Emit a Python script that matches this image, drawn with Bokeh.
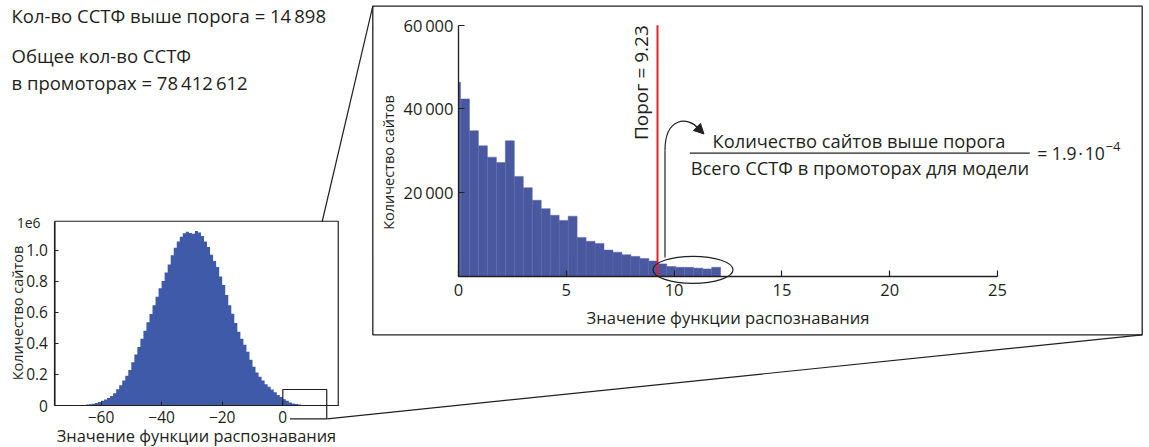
import math
from bokeh.plotting import figure
from bokeh.models import Range1d, LinearAxis, FixedTicker, Label, Arrow, NormalHead
from bokeh.embed import file_html
from bokeh.resources import INLINE

# ---------------- data ----------------
# overview histogram (counts in units of 1e6), bins of width 1, left edges
overview_bin_left = list(range(-72, 12))
overview_counts_1e6 = [
    0.0003, 0.0005, 0.0008, 0.0012, 0.0018, 0.0027, 0.0040, 0.0058, 0.0085, 0.0120,
    0.0165, 0.0225, 0.0300, 0.0390, 0.0490, 0.0610, 0.0790, 0.1040, 0.1310, 0.1600,
    0.1910, 0.2290, 0.2780, 0.3280, 0.3760, 0.4290, 0.4810, 0.5350, 0.5890, 0.6450,
    0.6990, 0.7540, 0.8010, 0.8560, 0.9060, 0.9660, 1.0150, 1.0550, 1.0850, 1.1080,
    1.1180, 1.1100, 1.1050, 1.1220, 1.1120, 1.0900, 1.0550, 1.0200, 0.9700, 0.9300,
    0.8900, 0.8300, 0.7750, 0.7100, 0.6450, 0.5900, 0.5300, 0.4750, 0.4300, 0.3900,
    0.3450, 0.2950, 0.2500, 0.2120, 0.1850, 0.1600, 0.1370, 0.1200, 0.1030, 0.0850,
    0.0680, 0.0540, 0.0400, 0.0300, 0.0190, 0.0130, 0.0090, 0.0060, 0.0040, 0.0028,
    0.0020, 0.0014, 0.0010, 0.0008,
]
overview_ticks_x = [-60, -40, -20, 0]
overview_ticks_y = [0, 0.2, 0.4, 0.6, 0.8, 1.0]
zoom_region = (0.0, 14.5, -0.086, 0.103)   # x0, x1, y0, y1 of the marked region

# zoomed histogram (positive scores)
zoom_bin_edges = [0.0, 0.093, 0.509, 0.925, 1.341, 1.757, 2.173, 2.589, 3.005, 3.421,
                  3.837, 4.253, 4.669, 5.085, 5.501, 5.917, 6.333, 6.749, 7.165, 7.581,
                  7.997, 8.413, 8.829, 9.245, 9.661, 10.077, 10.493, 10.909, 11.325,
                  11.741, 12.157]
zoom_counts = [46400, 42400, 34800, 31200, 28500, 27200, 32400, 23900, 21200, 18200,
               16200, 14600, 13400, 14400, 9300, 8400, 7900, 6300, 5800, 5200,
               4800, 4300, 3700, 3000, 2400, 2200, 2200, 2000, 1800, 2200]
zoom_ticks_x = [0, 5, 10, 15, 20, 25]
zoom_ticks_y = [20000, 40000, 60000]
threshold = 9.23

txt_above = "Кол-во ССТФ выше порога = 14\u2009898"
txt_total_1 = "Общее кол-во ССТФ"
txt_total_2 = "в промоторах = 78\u2009412\u2009612"
txt_num = "Количество сайтов выше порога"
txt_den = "Всего ССТФ в промоторах для модели"
txt_ratio = "= 1.9\u200a·\u200a10"
txt_exp = "\u22124"
xlabel = "Значение функции распознавания"
ylabel = "Количество сайтов"

# ---------------- styles / layout ----------------
FONT = "Open Sans"
TXT = "#231f20"
BAR_SMALL = "#3f5aa8"
BAR_BIG = "#4a58a0"
RED = "#e8212a"

W, H = 1149, 447


def cx(px):
    return px


def cy(py):
    return H - py


p = figure(width=W, height=H, x_range=Range1d(0, W), y_range=Range1d(0, H),
           x_axis_type=None, y_axis_type=None, toolbar_location=None,
           output_backend="svg", min_border=0, outline_line_color=None,
           background_fill_color="white", border_fill_color="white")

# big panel ranges: data 0..25 -> page x 458..997 ; 0..60000 -> page y 276..24.7
bx0 = cx(458)
sxb = (cx(997) - bx0) / 25.0
p.extra_x_ranges["bx"] = Range1d(-bx0 / sxb, (W - bx0) / sxb)
by0 = cy(276)
syb = (cy(24.7) - by0) / 60000.0
p.extra_y_ranges["by"] = Range1d(-by0 / syb, (H - by0) / syb)

# small panel ranges: 0 -> page x 282.3, 3.03 px/unit ; 0 -> page y 405, 155.5 px per 1e6
sx0 = cx(282.3)
sxs = 3.03
p.extra_x_ranges["sx"] = Range1d(-sx0 / sxs, (W - sx0) / sxs)
sy0 = cy(405)
sys_ = 155.5
p.extra_y_ranges["sy"] = Range1d(-sy0 / sys_, (H - sy0) / sys_)

S_XMIN, S_XMAX, S_YMAX = -75.2, 18.3, 1.185

# ---------------- small panel ----------------
p.varea_step(x=overview_bin_left + [overview_bin_left[-1] + 1],
             y1=[0] * (len(overview_counts_1e6) + 1),
             y2=overview_counts_1e6 + [overview_counts_1e6[-1]],
             step_mode="after", x_range_name="sx", y_range_name="sy",
             fill_color=BAR_SMALL)

p.quad(left=[S_XMIN], right=[S_XMAX], bottom=[0], top=[S_YMAX],
       x_range_name="sx", y_range_name="sy", fill_color=None,
       line_color=TXT, line_width=1.2)

sxa = LinearAxis(x_range_name="sx", y_range_name="sy", fixed_location=0,
                 bounds=(S_XMIN, S_XMAX), ticker=FixedTicker(ticks=overview_ticks_x),
                 major_label_overrides={t: (str(t).replace("-", "\u2212")) for t in overview_ticks_x})
sya = LinearAxis(x_range_name="sx", y_range_name="sy", fixed_location=S_XMIN,
                 bounds=(0, S_YMAX), ticker=FixedTicker(ticks=overview_ticks_y),
                 major_label_overrides={0: "0", 0.2: "0.2", 0.4: "0.4", 0.6: "0.6",
                                        0.8: "0.8", 1.0: "1.0"})
for a, st in ((sxa, 5), (sya, 7)):
    a.axis_line_color = TXT
    a.axis_line_width = 1.2
    a.major_tick_in = 4
    a.major_tick_out = 0
    a.major_tick_line_color = TXT
    a.minor_tick_in = 0
    a.minor_tick_out = 0
    a.major_label_text_font = FONT
    a.major_label_text_font_size = "15.5px"
    a.major_label_text_color = TXT
    a.major_label_standoff = st
p.add_layout(sxa, "below")
p.add_layout(sya, "left")
p.add_layout(Label(x=cx(16.5), y=cy(312.5), text=ylabel, angle=math.pi / 2,
                   text_align="center", text_baseline="middle", text_font=FONT,
                   text_font_size="14.5px", text_color=TXT))
p.add_layout(Label(x=cx(196), y=cy(434.5), text=xlabel,
                   text_align="center", text_baseline="middle", text_font=FONT,
                   text_font_size="16.4px", text_color=TXT))

zx0, zx1, zy0, zy1 = zoom_region
p.multi_line(xs=[[zx0, zx0, zx1, zx1, 2.4]], ys=[[0, zy1, zy1, zy0, zy0]],
             x_range_name="sx", y_range_name="sy", line_color=TXT, line_width=1.2)

p.add_layout(Label(x=cx(40), y=cy(222), text="1e6", text_font=FONT,
                   text_font_size="14px", text_color=TXT, text_align="right",
                   text_baseline="middle"))

# ---------------- big panel ----------------
p.quad(left=zoom_bin_edges[:-1], right=zoom_bin_edges[1:], top=zoom_counts, bottom=0,
       x_range_name="bx", y_range_name="by", fill_color=BAR_BIG,
       line_color="#5a67aa", line_width=0.5)

bxa = LinearAxis(x_range_name="bx", y_range_name="by", fixed_location=0,
                 bounds=(0, 25), ticker=FixedTicker(ticks=zoom_ticks_x),
                 axis_label=xlabel)
bya = LinearAxis(x_range_name="bx", y_range_name="by", fixed_location=0,
                 bounds=(0, 60000), ticker=FixedTicker(ticks=zoom_ticks_y),
                 major_label_overrides={t: "%d\u2009000" % (t // 1000) for t in zoom_ticks_y})
for a, st, ast in ((bxa, 7, 7), (bya, 5, 7)):
    a.axis_line_color = TXT
    a.axis_line_width = 1.3
    a.major_tick_in = 6
    a.major_tick_out = 0
    a.major_tick_line_color = TXT
    a.major_tick_line_width = 1.2
    a.minor_tick_in = 0
    a.minor_tick_out = 0
    a.major_label_text_font = FONT
    a.major_label_text_font_size = "16.5px"
    a.major_label_text_color = TXT
    a.major_label_standoff = st
    a.axis_label_text_font = FONT
    a.axis_label_text_font_size = "16.6px"
    a.axis_label_text_font_style = "normal"
    a.axis_label_text_color = TXT
    a.axis_label_standoff = ast
p.add_layout(bxa, "below")
p.add_layout(bya, "left")
p.add_layout(Label(x=cx(388), y=cy(162), text=ylabel, angle=math.pi / 2,
                   text_align="center", text_baseline="middle", text_font=FONT,
                   text_font_size="14.5px", text_color=TXT))

# threshold line and label
p.segment(x0=[threshold], y0=[0], x1=[threshold], y1=[60000],
          x_range_name="bx", y_range_name="by", line_color=RED, line_width=2)
p.add_layout(Label(x=threshold, y=60000, x_range_name="bx", y_range_name="by",
                   text="Порог = %.2f" % threshold, angle=math.pi / 2,
                   text_align="right", text_baseline="bottom", x_offset=-3,
                   text_font=FONT, text_font_size="19px", text_color=TXT))

# ellipse around bins above threshold
p.ellipse(x=[cx(692.5)], y=[cy(269.3)], width=80, height=27,
          fill_color=None, line_color=TXT, line_width=1.2)

# curved arrow
p.segment(x0=[cx(664.5)], y0=[cy(257)], x1=[cx(664.5)], y1=[cy(150)],
          line_color=TXT, line_width=1.2)
p.bezier(x0=[cx(664.5)], y0=[cy(150)], x1=[cx(698)], y1=[cy(128)],
         cx0=[cx(664.5)], cy0=[cy(116)], cx1=[cx(688)], cy1=[cy(116)],
         line_color=TXT, line_width=1.2)
p.add_layout(Arrow(end=NormalHead(size=10, fill_color=TXT, line_color=TXT),
                   x_start=cx(697), y_start=cy(127),
                   x_end=cx(703.5), y_end=cy(133.5),
                   line_color=TXT, line_width=1.2))

# fraction
p.add_layout(Label(x=cx(858.5), y=cy(140), text=txt_num, text_font=FONT,
                   text_font_size="18.3px", text_color=TXT, text_align="center",
                   text_baseline="middle"))
p.segment(x0=[cx(689.3)], y0=[cy(152.7)], x1=[cx(1029.3)], y1=[cy(152.7)],
          line_color=TXT, line_width=1.2)
p.add_layout(Label(x=cx(859.5), y=cy(167), text=txt_den, text_font=FONT,
                   text_font_size="18.3px", text_color=TXT, text_align="center",
                   text_baseline="middle"))
p.add_layout(Label(x=cx(1036.7), y=cy(152), text=txt_ratio, text_font=FONT,
                   text_font_size="17.6px", text_color=TXT, text_align="left",
                   text_baseline="middle"))
p.add_layout(Label(x=cx(1105), y=cy(146), text=txt_exp, text_font=FONT,
                   text_font_size="13px", text_color=TXT, text_align="left",
                   text_baseline="middle"))

# frame around zoom panel + connectors
BOX_L, BOX_R, BOX_T, BOX_B = 372.3, 1141.7, 5.7, 334.3
p.quad(left=[cx(BOX_L)], right=[cx(BOX_R)], top=[cy(BOX_T)], bottom=[cy(BOX_B)],
       fill_color=None, line_color=TXT, line_width=1.3)
p.segment(x0=[cx(321.7), cx(326.7)], y0=[cy(221), cy(418.3)],
          x1=[cx(BOX_L), cx(BOX_R)], y1=[cy(BOX_T), cy(BOX_B)],
          line_color=TXT, line_width=1.2)

# top-left texts
for ty, t in ((15, txt_above), (55, txt_total_1), (82, txt_total_2)):
    p.add_layout(Label(x=cx(11), y=cy(ty), text=t, text_font=FONT,
                       text_font_size="18.5px", text_color=TXT, text_align="left",
                       text_baseline="middle"))

open("out.html", "w").write(file_html(p, INLINE))
